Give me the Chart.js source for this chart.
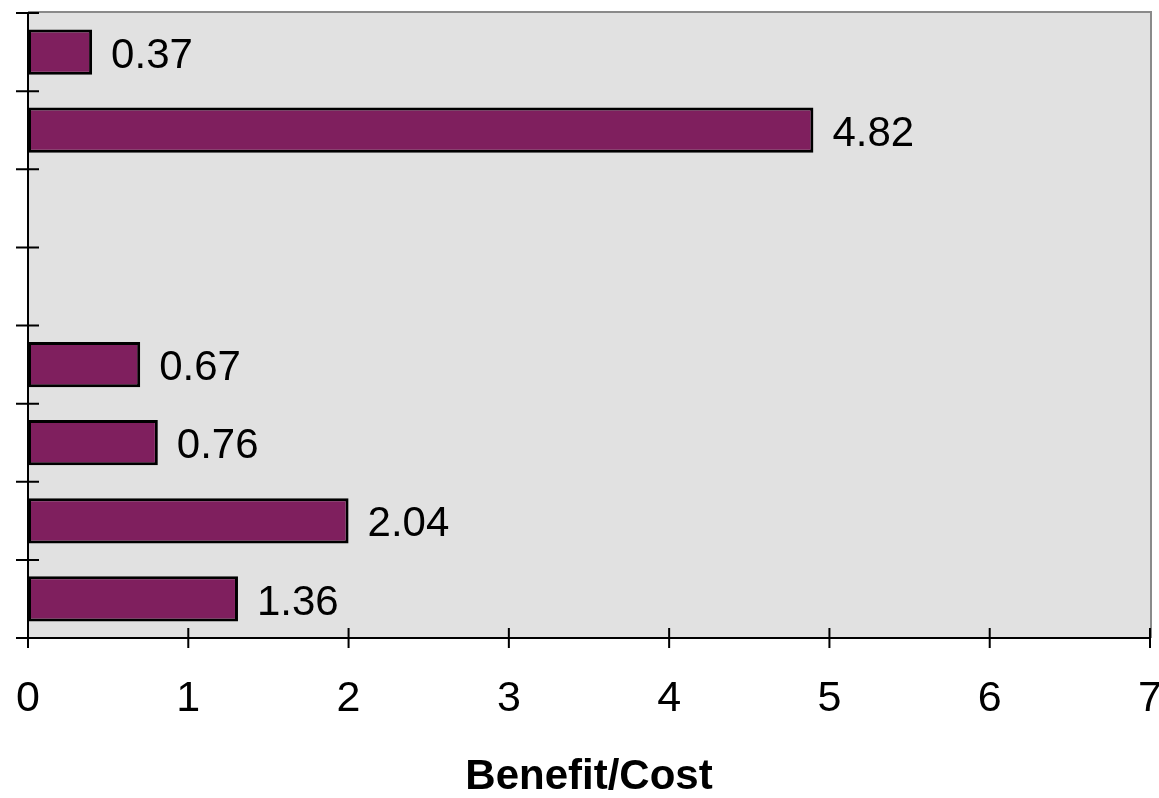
<!DOCTYPE html>
<html>
<head>
<meta charset="utf-8">
<script src="https://cdn.jsdelivr.net/npm/chart.js@4/dist/chart.umd.min.js"></script>
<style>
  html, body { margin: 0; padding: 0; background: #fff; overflow: hidden; }
  #wrap { width: 1159px; height: 798px; overflow: hidden; }
  #wrap div { width: 1175px; height: 798px; }
</style>
</head>
<body>
<div id="wrap"><div><canvas id="chart"></canvas></div></div>
<script>
// categories are not labelled in the picture, top to bottom
const categories = ['1', '2', '3', '4', '5', '6', '7', '8'];
// bar lengths as drawn against the x axis
const barValues = [0.40, 4.90, null, null, 0.70, 0.81, 2.00, 1.31];
// value labels printed next to the bars
const barLabels = ['0.37', '4.82', '', '', '0.67', '0.76', '2.04', '1.36'];
const xTicks = [0, 1, 2, 3, 4, 5, 6, 7];
const xTitle = 'Benefit/Cost';

const FONT = "'Liberation Sans', Arial, sans-serif";

// gray plot area with gray top/right frame
const plotBackground = {
    id: 'plotBackground',
    beforeDraw(chart) {
        const { ctx, chartArea: a } = chart;
        ctx.save();
        ctx.fillStyle = '#e1e1e1';
        ctx.fillRect(a.left, a.top - 1, a.right - a.left, a.bottom - a.top + 1);
        ctx.strokeStyle = '#8a8a8a';
        ctx.lineWidth = 2;
        ctx.beginPath();
        ctx.moveTo(a.left, a.top - 1);
        ctx.lineTo(a.right + 1, a.top - 1);
        ctx.lineTo(a.right + 1, a.bottom);
        ctx.stroke();
        ctx.restore();
    }
};

// tick marks crossing both axes
const crossTicks = {
    id: 'crossTicks',
    afterDraw(chart) {
        const { ctx, chartArea: a, scales } = chart;
        ctx.save();
        ctx.strokeStyle = '#000';
        ctx.lineWidth = 2;
        ctx.beginPath();
        const n = categories.length;
        for (let i = 0; i <= n; i++) {
            const y = a.top + i * (a.bottom - a.top) / n;
            ctx.moveTo(a.left - 12, y);
            ctx.lineTo(a.left + 11, y);
        }
        xTicks.forEach(v => {
            const x = scales.x.getPixelForValue(v);
            ctx.moveTo(x, a.bottom - 10);
            ctx.lineTo(x, a.bottom + 10);
        });
        ctx.stroke();
        ctx.restore();
    }
};

// value labels to the right of each bar
const valueLabels = {
    id: 'valueLabels',
    afterDatasetsDraw(chart) {
        const { ctx } = chart;
        const meta = chart.getDatasetMeta(0);
        ctx.save();
        ctx.font = '42px ' + FONT;
        ctx.fillStyle = '#000';
        ctx.textAlign = 'left';
        ctx.textBaseline = 'middle';
        meta.data.forEach((bar, i) => {
            if (!barLabels[i] || barValues[i] == null) return;
            ctx.fillText(barLabels[i], bar.x + 19, bar.y + 4);
        });
        ctx.restore();
    }
};

new Chart(document.getElementById('chart'), {
    type: 'bar',
    data: {
        labels: categories,
        datasets: [{
            data: barValues,
            backgroundColor: '#7f1f5e',
            borderColor: '#000',
            borderWidth: 3,
            borderSkipped: false,
            categoryPercentage: 1,
            barPercentage: 0.58
        }]
    },
    options: {
        indexAxis: 'y',
        responsive: true,
        maintainAspectRatio: false,
        animation: false,
        events: [],
        layout: { padding: { left: 28, right: 25, top: 13, bottom: 0 } },
        plugins: {
            legend: { display: false },
            tooltip: { enabled: false }
        },
        scales: {
            x: {
                min: 0,
                max: 7,
                afterBuildTicks(scale) {
                    scale.ticks = xTicks.map(v => ({ value: v }));
                },
                afterFit(scale) {
                    scale.paddingLeft = 0;
                    scale.paddingRight = 0;
                    scale.height = 160;
                },
                grid: { display: false, drawTicks: false },
                border: { display: true, color: '#000', width: 2 },
                ticks: {
                    color: '#000',
                    padding: 40,
                    maxRotation: 0,
                    font: { family: FONT, size: 43, lineHeight: 1 }
                },
                title: {
                    display: true,
                    text: xTitle,
                    color: '#000',
                    padding: { top: 35, bottom: 0 },
                    font: { family: FONT, size: 42, weight: 'bold', lineHeight: 1 }
                }
            },
            y: {
                afterFit(scale) {
                    scale.width = 0;
                    scale.paddingTop = 0;
                    scale.paddingBottom = 0;
                },
                grid: { display: false, drawTicks: false },
                border: { display: true, color: '#000', width: 2 },
                ticks: { display: false }
            }
        }
    },
    plugins: [plotBackground, crossTicks, valueLabels]
});
</script>
</body>
</html>
